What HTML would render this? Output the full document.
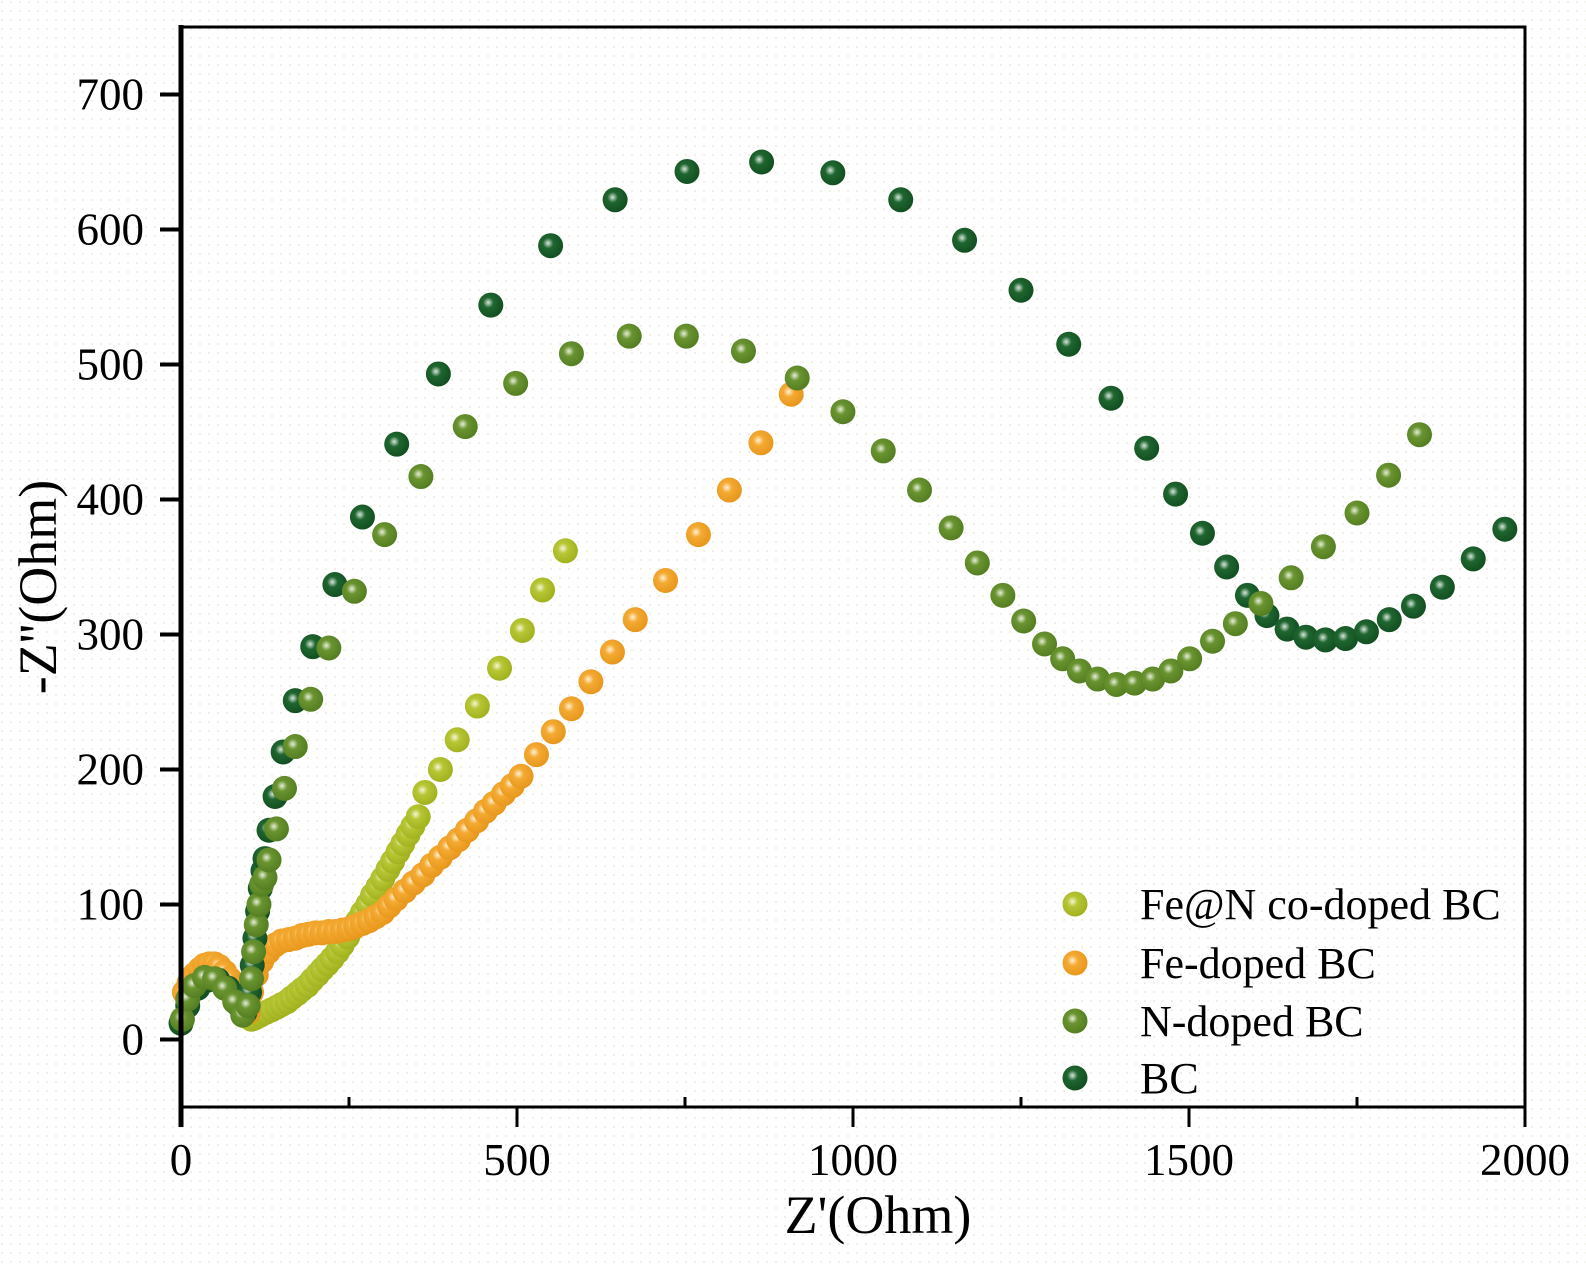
<!DOCTYPE html>
<html><head><meta charset="utf-8"><style>
html,body{margin:0;padding:0;background:#fff;}
svg{display:block;font-family:"Liberation Serif",serif;}
</style></head><body>
<svg id="chart" width="1586" height="1266" viewBox="0 0 1586 1266" xmlns="http://www.w3.org/2000/svg">
<defs>
<pattern id="dots" width="9" height="9" patternUnits="userSpaceOnUse"><circle cx="2" cy="2" r="1" fill="#ecebe0"/></pattern>
<radialGradient id="g0" cx="0.4" cy="0.4" r="0.6"><stop offset="0" stop-color="#f4f6d8"/><stop offset="0.35" stop-color="#b7c634"/><stop offset="1" stop-color="#a2b21f"/></radialGradient>
<radialGradient id="g1" cx="0.4" cy="0.4" r="0.6"><stop offset="0" stop-color="#fdf0d4"/><stop offset="0.35" stop-color="#f4aa32"/><stop offset="1" stop-color="#e8971c"/></radialGradient>
<radialGradient id="g2" cx="0.4" cy="0.4" r="0.6"><stop offset="0" stop-color="#e6eed8"/><stop offset="0.35" stop-color="#6a9430"/><stop offset="1" stop-color="#557e22"/></radialGradient>
<radialGradient id="g3" cx="0.4" cy="0.4" r="0.6"><stop offset="0" stop-color="#d8e6da"/><stop offset="0.35" stop-color="#1f6630"/><stop offset="1" stop-color="#134f22"/></radialGradient>
</defs>
<rect x="0" y="0" width="1586" height="1266" fill="url(#dots)"/>
<g id="plot"></g>
<g id="axes"></g>
</svg>
<script>
// ---- data (Z' in Ohm, -Z'' in Ohm) ----
const seriesNames = ["Fe@N co-doped BC","Fe-doped BC","N-doped BC","BC"];
const feN_x = [2,10,20,35,50,65,80,92,105,110,118,126,135,143,150,158,165,173,180,188,195,203,210,218,225,233,240,248,255,263,270,278,285,293,300,308,315,323,330,338,345,353,363,386,411,441,474,508,538,572];
const feN_y = [15,30,40,46,45,38,28,18,15,16,18,20,22,24,26,28,31,34,37,40,44,48,52,56,60,65,70,76,82,88,94,100,107,113,119,126,132,139,145,152,158,165,183,200,222,247,275,303,333,362];
const fe_x = [5,12,20,28,35,42,50,57,65,72,80,86,92,100,105,112,120,130,140,150,160,170,180,190,200,210,220,230,240,250,260,270,280,290,300,310,320,333,346,360,373,386,400,413,426,440,453,466,480,493,506,529,554,581,610,642,676,721,770,816,863,908];
const fe_y = [35,42,48,52,55,56,56,54,50,45,38,30,22,20,35,48,58,65,70,73,74,75,77,78,79,79,80,80,81,82,84,86,88,91,94,99,104,110,116,122,129,135,142,148,155,162,169,175,182,188,195,211,228,245,265,287,311,340,374,407,442,478];
const n_x = [2,10,20,35,50,65,80,92,100,105,108,112,116,120,125,131,142,154,170,193,220,258,303,357,423,498,581,667,752,837,917,985,1045,1099,1146,1185,1223,1254,1285,1312,1337,1364,1392,1419,1446,1473,1501,1535,1569,1607,1652,1700,1750,1797,1843];
const n_y = [15,30,40,46,45,38,28,18,25,45,65,85,100,115,120,133,156,186,217,252,290,332,374,417,454,486,508,521,521,510,490,465,436,407,379,353,329,310,293,282,273,267,263,264,267,273,282,295,308,323,342,365,390,418,448];
const bc_x = [0,10,25,40,55,70,85,95,102,106,110,114,118,122,125,131,140,152,170,196,229,270,321,383,461,550,646,753,864,970,1071,1166,1250,1321,1384,1437,1480,1520,1556,1587,1616,1646,1674,1703,1733,1764,1798,1834,1877,1923,1970];
const bc_y = [12,25,38,44,44,38,26,20,35,55,75,95,112,125,134,155,180,213,251,291,337,387,441,493,544,588,622,643,650,642,622,592,555,515,475,438,404,375,350,329,314,304,298,296,297,302,311,321,335,356,378];
const xTicks = [0,500,1000,1500,2000];
const yTicks = [0,100,200,300,400,500,600,700];

const X0=181,X1=1525,YT=27,YB=1107;
const xMin=0,xMax=2000,yMin=-50,yMax=750;
const sx=v=>X0+(v-xMin)/(xMax-xMin)*(X1-X0);
const sy=v=>YB-(v-yMin)/(yMax-yMin)*(YB-YT);
const NS="http://www.w3.org/2000/svg";
function mk(tag,attrs,parent,text){const e=document.createElementNS(NS,tag);for(const k in attrs)e.setAttribute(k,attrs[k]);if(text!==undefined)e.textContent=text;parent.appendChild(e);return e;}
const plot=document.getElementById('plot'), axes=document.getElementById('axes');
const allX=[feN_x,fe_x,n_x,bc_x], allY=[feN_y,fe_y,n_y,bc_y];
const keys=['fe-n-codoped','fe-doped','n-doped','bc'];
const drawOrder=[0,1,3,2];
for(const s of drawOrder){
  const g=mk('g',{},plot);
  
  
  for(let i=0;i<allX[s].length;i++){
    const c=mk('circle',{cx:sx(allX[s][i]),cy:sy(allY[s][i]),r:12.5,fill:'url(#g'+s+')'},g);
    
    
  }
}
// frame
let f=mk('rect',{x:X0,y:YT,width:X1-X0,height:YB-YT,fill:'none',stroke:'#000','stroke-width':3},axes);


let la=mk('line',{x1:X0,y1:YT-2,x2:X0,y2:1127,stroke:'#000','stroke-width':5},axes);


let ra=mk('line',{x1:X1,y1:YB,x2:X1,y2:1127,stroke:'#000','stroke-width':3},axes);


for(const v of yTicks){
  const y=sy(v);
  const t=mk('line',{x1:160,y1:y,x2:X0,y2:y,stroke:'#000','stroke-width':4},axes);
  
  
  const l=mk('text',{x:144,y:y+15,'text-anchor':'end','font-size':45,fill:'#000'},axes,String(v));
  
  
}
for(const v of xTicks){
  const x=sx(v);
  const t=mk('line',{x1:x,y1:YB,x2:x,y2:1127,stroke:'#000','stroke-width':3},axes);
  
  
  const l=mk('text',{x:x,y:1175,'text-anchor':'middle','font-size':45,fill:'#000'},axes,String(v));
  
  
}
for(let v=250;v<2000;v+=500){
  const x=sx(v);
  const t=mk('line',{x1:x,y1:YB-1,x2:x,y2:YB-10,stroke:'#000','stroke-width':3},axes);
  
  
}
let xt=mk('text',{x:878,y:1233,'text-anchor':'middle','font-size':54,fill:'#000'},axes,"Z'(Ohm)");


let yt=mk('text',{x:0,y:0,'text-anchor':'middle','font-size':54,fill:'#000',transform:'translate(56,587) rotate(-90)'},axes,"-Z''(Ohm)");


const legY=[904,963,1021,1078];
for(let s=0;s<4;s++){
  const g=mk('g',{},axes);
  
  
  mk('circle',{cx:1075,cy:legY[s],r:12.5,fill:'url(#g'+s+')'},g);
  mk('text',{x:1140,y:legY[s]+15,'font-size':44,fill:'#000'},g,seriesNames[s]);
}
</script>
</body></html>
